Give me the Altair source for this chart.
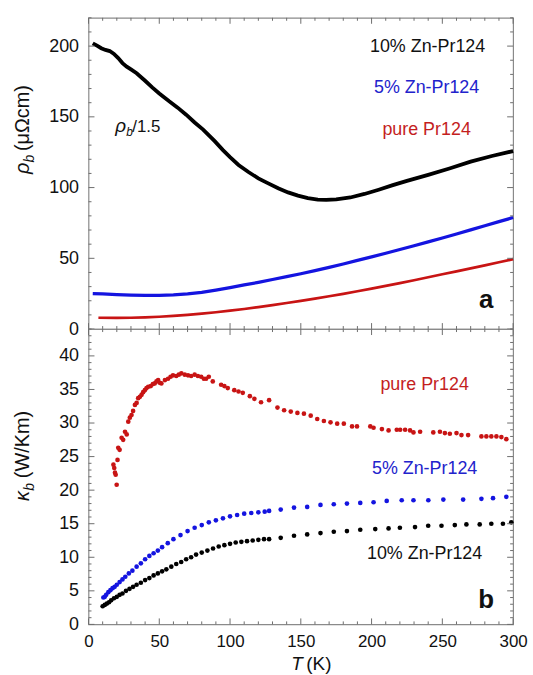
import altair as alt
import pandas as pd

# ---------------- data ----------------
# panel a : resistivity rho_b (muOhm cm)
T_rho_10 = [3, 6, 9, 12, 15, 18, 21, 24, 27, 30, 34, 40, 45, 50, 57, 63, 69, 75, 81, 89, 95,
            100, 106, 113, 120, 127, 134, 141, 148, 155, 162, 168, 175, 185, 195, 205, 215,
            225, 240, 255, 270, 285, 300]
rho_10 = [202, 200.3, 198.5, 197.3, 196.5, 194.5, 191.5, 188, 185.5, 183.5, 180.8, 175.5,
          170.8, 166.5, 161, 156.5, 151.5, 146, 141, 133, 126.5, 121.5, 116, 111, 106.5,
          103, 99.5, 96.6, 94.3, 92.6, 91.5, 91.3, 91.7, 93, 95.5, 98.5, 101.7, 104.7, 109,
          113.5, 118.3, 122.3, 125.8]

T_rho_5 = [3, 10, 20, 30, 40, 50, 60, 70, 80, 90, 100, 110, 120, 130, 140, 150, 160, 170,
           180, 190, 200, 210, 220, 230, 240, 250, 260, 270, 280, 290, 300]
rho_5 = [25, 24.8, 24.4, 24.0, 23.8, 23.8, 24.1, 24.8, 25.9, 27.5, 29.3, 31.2, 33.0, 35.0,
         37.0, 39.1, 41.3, 43.6, 46.0, 48.5, 51.0, 53.6, 56.2, 58.9, 61.6, 64.4, 67.2, 70.1,
         73.0, 75.9, 78.8]

T_rho_0 = [7, 20, 30, 40, 50, 60, 70, 80, 90, 100, 110, 120, 130, 140, 150, 160, 170, 180,
           190, 200, 210, 220, 230, 240, 250, 260, 270, 280, 290, 300]
rho_0 = [8.0, 7.9, 8.0, 8.3, 8.7, 9.3, 10.0, 10.9, 11.9, 13.0, 14.2, 15.5, 16.9, 18.4, 19.9,
         21.5, 23.2, 24.9, 26.7, 28.6, 30.5, 32.5, 34.5, 36.6, 38.7, 40.8, 42.9, 45.0, 47.2,
         49.4]

# panel b : thermal conductivity kappa_b (W/Km)
T_k_0 = [17.6, 18.2, 18.7, 19.2, 19.9, 20.5, 21, 22, 23.4, 24.5, 25.8, 27, 28.1, 29.2, 30.4,
         31.5, 32.8, 34, 35.1, 36.3, 37.5, 38.6, 39.8, 41, 42.2, 44, 45.5, 46.8, 48, 49.2,
         50.3, 51.5, 54, 56.2, 58, 59.7, 62, 63.8, 65.6, 68, 70.3, 72.5, 75, 77.3, 79.6,
         81.5, 83.1, 85, 87.8, 93.7, 96, 98.4, 103, 106, 109, 114, 117.2, 121.9, 127.6,
         133.5, 138.2, 142.9, 147.6, 152.2, 157, 161.6, 166.3, 171, 175.7, 180.4, 186.2,
         189.7, 199.1, 201.4, 207.3, 212, 217.8, 220.2, 223.7, 227.2, 229.6, 234.3, 243.6,
         248.3, 251.8, 255.3, 260, 263.5, 268.2, 277.6, 281.1, 284.6, 288.2, 291.7, 295.2]
k_0 = [23.8, 23.3, 22.6, 22.3, 20.8, 24.5, 26.3, 26.0, 27.8, 27.5, 28.7, 28.3, 30.2, 30.8,
       31.2, 31.8, 32.7, 33.0, 33.7, 33.9, 34.2, 34.6, 34.9, 35.2, 35.4, 35.5, 35.8, 35.9,
       36.2, 36.4, 36.0, 35.9, 36.4, 36.6, 36.9, 37.1, 37.0, 37.2, 37.4, 37.2, 37.1, 37.0,
       37.2, 37.0, 36.9, 36.6, 36.6, 36.9, 36.2, 35.7, 35.5, 35.2, 34.9, 34.7, 34.5, 34.0,
       33.6, 33.1, 33.4, 32.3, 31.9, 31.7, 31.5, 31.4, 31.1, 30.6, 30.3, 30.1, 29.9, 29.9,
       29.5, 29.5, 29.5, 29.3, 29.1, 28.9, 29.0, 29.0, 29.0, 28.9, 28.6, 28.7, 28.6, 28.7,
       28.5, 28.4, 28.5, 28.2, 28.2, 28.0, 28.0, 28.0, 28.0, 27.9, 27.6]

T_k_5 = [10.5, 11.5, 12.5, 14, 15.5, 17, 18.5, 20, 22, 24, 26, 28.5, 31, 34, 37, 40, 43, 46,
         49, 52, 56, 60, 65, 70, 75, 80, 85, 90, 95, 100, 105, 110, 115, 120, 124.5, 127.6,
         135.8, 145.2, 154.5, 163.9, 173.3, 182.6, 192, 201.4, 210.7, 221.3, 229.6, 240.1,
         250.7, 264.7, 277.6, 285.8, 295.2]
k_5 = [4.0, 4.1, 4.4, 4.8, 5.1, 5.4, 5.6, 5.9, 6.3, 6.7, 7.1, 7.6, 8.0, 8.6, 9.1, 9.7, 10.2,
       10.6, 11.0, 11.5, 12.1, 12.7, 13.3, 13.9, 14.4, 14.8, 15.2, 15.5, 15.8, 16.1, 16.3,
       16.5, 16.6, 16.7, 16.8, 16.9, 17.1, 17.4, 17.5, 17.8, 17.9, 18.0, 18.1, 18.2, 18.4,
       18.5, 18.5, 18.5, 18.6, 18.6, 18.7, 18.8, 19.0]

T_k_10 = [10, 11.5, 13, 14.5, 16, 18, 20, 22, 24, 26.5, 29, 31.5, 34, 37, 40, 43, 46, 49, 52,
          55, 58.5, 62, 65.5, 69, 72.5, 76, 80, 84, 88, 92, 96, 100, 104, 108, 112, 116, 120,
          124, 127.6, 135.8, 145.2, 154.5, 163.9, 173.3, 182.6, 192, 202.6, 212, 220, 230.7,
          240, 249.4, 258.8, 267, 276.4, 284.6, 292.8, 298.7]
k_10 = [2.7, 2.9, 3.1, 3.3, 3.6, 3.9, 4.1, 4.4, 4.6, 5.0, 5.3, 5.6, 5.9, 6.2, 6.6, 6.9, 7.3,
        7.6, 7.9, 8.2, 8.6, 9.0, 9.3, 9.7, 10.0, 10.4, 10.7, 11.0, 11.3, 11.6, 11.8, 12.0,
        12.2, 12.3, 12.4, 12.5, 12.6, 12.7, 12.7, 12.9, 13.2, 13.4, 13.6, 13.8, 13.9, 14.1,
        14.2, 14.3, 14.4, 14.5, 14.7, 14.7, 14.8, 14.9, 14.9, 15.0, 15.0, 15.2]

series_names = ["10% Zn-Pr124", "5% Zn-Pr124", "pure Pr124"]

# tick values
x_major = [0, 50, 100, 150, 200, 250, 300]
x_minor = [v for v in range(0, 301, 10) if v % 50]
rho_major = [0, 50, 100, 150, 200]
rho_minor = [v for v in range(0, 221, 10) if v % 50]
k_major = [0, 5, 10, 15, 20, 25, 30, 35, 40]
k_minor = [v for v in range(0, 45) if v % 5]

# ---------------- styling ----------------
FONT = "Liberation Sans"
W, H_TOP, H_BOT = 427, 313, 297
LINE_COLORS = ["#000000", "#1414e0", "#c81414"]
DOT_COLORS = ["#2b2b2b", "#1a1ae0", "#c81e1e"]
TEXT_COLORS = ["#111111", "#2222cc", "#c41e1e"]
TICK_COLOR = "#6e6e6e"
MAJ, MIN = 6, 3

XS = alt.Scale(domain=[0, 300], nice=False, zero=False)
YS_TOP = alt.Scale(domain=[0, 220], nice=False)
YS_BOT = alt.Scale(domain=[0, 44], nice=False)


def label_axis(values, pad, size=18):
    return alt.Axis(values=values, ticks=False, domain=False, grid=False, title=None,
                    labelFont=FONT, labelFontSize=size, labelColor="#111111",
                    labelPadding=pad, labelFlush=False, labelOverlap=False)


def txt(text, x, y, size, color="#111111", **kw):
    return alt.Chart(alt.Data(values=[{}])).mark_text(
        text=text, font=FONT, fontSize=size, color=color, **kw
    ).encode(x=alt.value(x), y=alt.value(y))


def frame_ticks(ys, y_major, y_minor, w, h):
    """Inward ticks on all four sides, positioned through the panel's scales."""
    out = []
    for vals, ln in ((y_major, MAJ), (y_minor, MIN)):
        d = pd.DataFrame({"v": vals})
        yenc = alt.Y("v:Q", scale=ys, axis=None)
        out.append(alt.Chart(d).mark_rule(color=TICK_COLOR, strokeWidth=1).encode(
            y=yenc, x=alt.value(0), x2=alt.value(ln)))
        out.append(alt.Chart(d).mark_rule(color=TICK_COLOR, strokeWidth=1).encode(
            y=yenc, x=alt.value(w), x2=alt.value(w - ln)))
    for vals, ln in ((x_major, MAJ), (x_minor, MIN)):
        d = pd.DataFrame({"v": vals})
        xenc = alt.X("v:Q", scale=XS, axis=None)
        out.append(alt.Chart(d).mark_rule(color=TICK_COLOR, strokeWidth=1).encode(
            x=xenc, y=alt.value(h), y2=alt.value(h - ln)))
        out.append(alt.Chart(d).mark_rule(color=TICK_COLOR, strokeWidth=1).encode(
            x=xenc, y=alt.value(0), y2=alt.value(ln)))
    return out


# ---------------- panel a ----------------
df_top = pd.concat([
    pd.DataFrame({"T": T_rho_10, "rho": rho_10, "series": series_names[0]}),
    pd.DataFrame({"T": T_rho_5, "rho": rho_5, "series": series_names[1]}),
    pd.DataFrame({"T": T_rho_0, "rho": rho_0, "series": series_names[2]}),
], ignore_index=True)

lines = alt.Chart(df_top).mark_line().encode(
    x=alt.X("T:Q", scale=XS, axis=None),
    y=alt.Y("rho:Q", scale=YS_TOP, axis=label_axis(rho_major, 10)),
    color=alt.Color("series:N", scale=alt.Scale(domain=series_names, range=LINE_COLORS),
                    legend=None),
    strokeWidth=alt.StrokeWidth("series:N",
                                scale=alt.Scale(domain=series_names, range=[3.8, 2.7, 2.7]),
                                legend=None),
)

top_texts = [
    txt(series_names[0], 341, 29, 18, TEXT_COLORS[0], align="center", baseline="middle"),
    txt(series_names[1], 340, 71, 18, TEXT_COLORS[1], align="center", baseline="middle"),
    txt(series_names[2], 340, 113, 18, TEXT_COLORS[2], align="center", baseline="middle"),
    # rho_b / 1.5 annotation
    txt("ρ", 27, 115, 19, fontStyle="italic", align="left", baseline="alphabetic"),
    txt("b", 38, 119, 12, fontStyle="italic", align="left", baseline="alphabetic"),
    txt("/1.5", 44, 115, 17, align="left", baseline="alphabetic"),
    # panel letter
    txt("a", 400, 292, 26, fontWeight="bold", align="center", baseline="alphabetic"),
    # y title  rho_b (muOhm cm)
    txt("ρ", -60, 157, 20, fontStyle="italic", angle=270, align="left", baseline="alphabetic"),
    txt("b", -55, 145.5, 14, fontStyle="italic", angle=270, align="left", baseline="alphabetic"),
    txt("(μΩcm)", -60, 134, 20, angle=270, align="left", baseline="alphabetic"),
]

top = alt.layer(lines, *frame_ticks(YS_TOP, rho_major, rho_minor, W, H_TOP), *top_texts
                ).resolve_axis(x="independent", y="independent"
                ).properties(width=W, height=H_TOP)

# ---------------- panel b ----------------
df_bot = pd.concat([
    pd.DataFrame({"T": T_k_10, "k": k_10, "series": series_names[0]}),
    pd.DataFrame({"T": T_k_5, "k": k_5, "series": series_names[1]}),
    pd.DataFrame({"T": T_k_0, "k": k_0, "series": series_names[2]}),
], ignore_index=True)

dots = alt.Chart(df_bot).mark_circle(size=22, opacity=1).encode(
    x=alt.X("T:Q", scale=XS, axis=label_axis(x_major, 9, 17)),
    y=alt.Y("k:Q", scale=YS_BOT, axis=label_axis(k_major, 10)),
    color=alt.Color("series:N", scale=alt.Scale(domain=series_names, range=DOT_COLORS),
                    legend=None),
)

bot_texts = [
    txt(series_names[2], 338, 56, 18, TEXT_COLORS[2], align="center", baseline="middle"),
    txt(series_names[1], 338, 141, 18, TEXT_COLORS[1], align="center", baseline="middle"),
    txt(series_names[0], 338, 226, 18, TEXT_COLORS[0], align="center", baseline="middle"),
    txt("b", 400, 281, 26, fontWeight="bold", align="center", baseline="alphabetic"),
    # y title kappa_b (W/Km)
    txt("κ", -60, 173, 20, fontStyle="italic", angle=270, align="left", baseline="alphabetic"),
    txt("b", -55, 162.5, 14, fontStyle="italic", angle=270, align="left", baseline="alphabetic"),
    txt("(W/Km)", -60, 150, 20, angle=270, align="left", baseline="alphabetic"),
    # x title T (K)
    txt("T", 204, 343, 19, fontStyle="italic", align="left", baseline="alphabetic"),
    txt("(K)", 219, 343, 19, align="left", baseline="alphabetic"),
]

bot = alt.layer(dots, *frame_ticks(YS_BOT, k_major, k_minor, W, H_BOT), *bot_texts
                ).resolve_axis(x="independent", y="independent"
                ).properties(width=W, height=H_BOT)

chart = alt.vconcat(top, bot, spacing=0, bounds="flush").properties(
    padding={"left": 12, "top": 14, "right": 5, "bottom": 0}
).configure_view(stroke="#8a8a8a", strokeWidth=1.2)

chart.save("out.html", embed_options={"renderer": "svg", "actions": False})
